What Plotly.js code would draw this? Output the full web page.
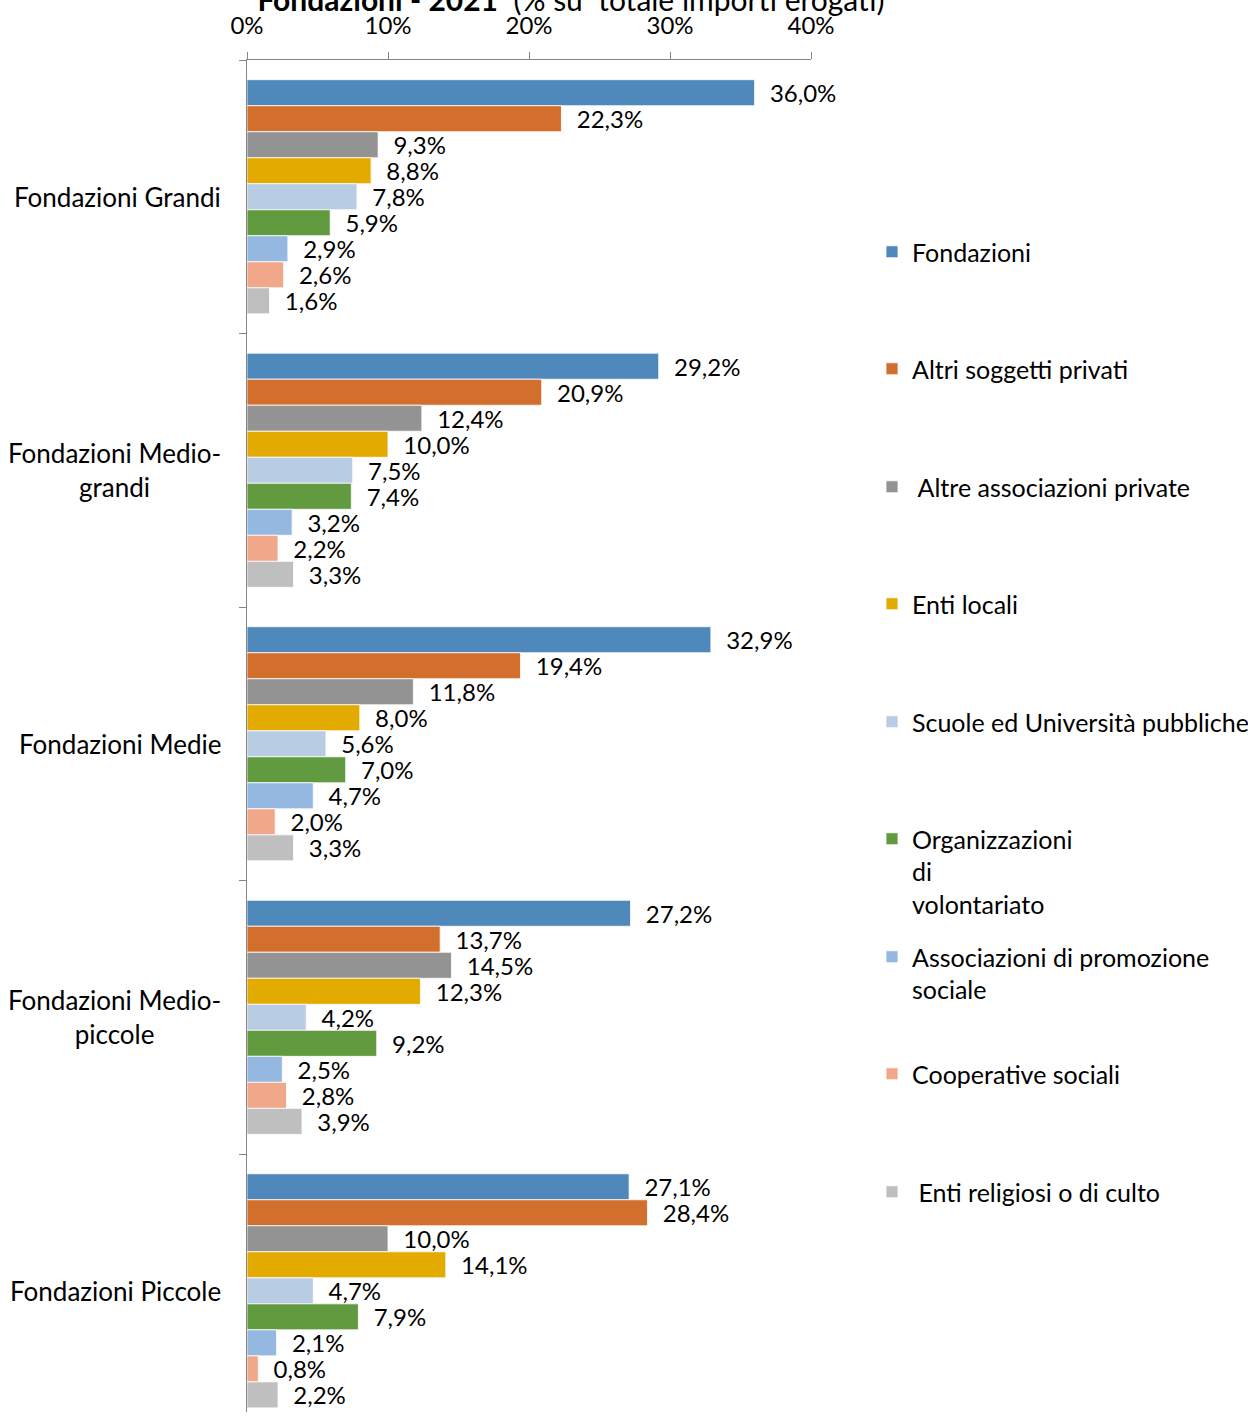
<!DOCTYPE html>
<html>
<head>
<meta charset="utf-8">
<script src="https://cdn.plot.ly/plotly-3.0.1.min.js"></script>
<style>html,body{margin:0;padding:0;background:#fff;}#chart{width:1248px;height:1421px;}</style>
</head>
<body>
<div id="chart"></div>
<script>
var categories = ["Fondazioni Grandi", "Fondazioni Medio-grandi", "Fondazioni Medie", "Fondazioni Medio-piccole", "Fondazioni Piccole"];
var categoryLabels = ["Fondazioni Grandi", "Fondazioni Medio-<br>grandi", "Fondazioni Medie", "Fondazioni Medio-<br>piccole", "Fondazioni Piccole"];
var seriesNames = ["Fondazioni", "Altri soggetti privati", "\u00A0Altre associazioni private", "Enti locali", "Scuole ed Università pubbliche", "Organizzazioni<br>di<br>volontariato", "Associazioni di promozione<br>sociale", "Cooperative sociali", "\u00A0Enti religiosi o di culto"];
var fondazioni = [36.0, 29.2, 32.9, 27.2, 27.1];
var altriSoggettiPrivati = [22.3, 20.9, 19.4, 13.7, 28.4];
var altreAssociazioniPrivate = [9.3, 12.4, 11.8, 14.5, 10.0];
var entiLocali = [8.8, 10.0, 8.0, 12.3, 14.1];
var scuoleUniversita = [7.8, 7.5, 5.6, 4.2, 4.7];
var organizzazioniVolontariato = [5.9, 7.4, 7.0, 9.2, 7.9];
var associazioniPromozione = [2.9, 3.2, 4.7, 2.5, 2.1];
var cooperativeSociali = [2.6, 2.2, 2.0, 2.8, 0.8];
var entiReligiosi = [1.6, 3.3, 3.3, 3.9, 2.2];
var tickValues = [0, 10, 20, 30, 40];
var tickLabels = ["0%", "10%", "20%", "30%", "40%"];

var seriesValues = [fondazioni, altriSoggettiPrivati, altreAssociazioniPrivate, entiLocali, scuoleUniversita, organizzazioniVolontariato, associazioniPromozione, cooperativeSociali, entiReligiosi];
var colors = ["#4F88BB", "#D36F2C", "#939393", "#E3AA00", "#B8CCE4", "#629A40", "#95B8E0", "#F1A78A", "#BFBFBF"];
var legendCenters = [252, 369, 487, 604, 722, 839, 957, 1074, 1192];

var FONT = "Lato, 'Open Sans', sans-serif";
var W = 1248, H = 1421;

var data = seriesValues.map(function (vals, i) {
  return {
    type: "bar",
    orientation: "h",
    name: seriesNames[i],
    y: categories,
    x: vals,
    text: vals.map(function (v) { return "\u00A0\u00A0" + v.toFixed(1).replace(".", ",") + "%"; }),
    texttemplate: "%{text}",
    textposition: "outside",
    constraintext: "none",
    cliponaxis: false,
    textfont: { family: FONT, size: 24, color: "#000" },
    marker: { color: colors[i], line: { color: "rgba(255,255,255,0.8)", width: 1 } },
    legend: i === 0 ? "legend" : "legend" + (i + 1),
    hoverinfo: "x+name"
  };
});

var layout = {
  width: W,
  height: H,
  paper_bgcolor: "#fff",
  plot_bgcolor: "#fff",
  font: { family: FONT, size: 24, color: "#000" },
  margin: { l: 247, r: 437, t: 60, b: 9 },
  barmode: "group",
  bargap: 0.144,
  bargroupgap: 0,
  title: {
    text: "<b>Fondazioni - 2021</b>  (% su  totale importi erogati)",
    font: { family: FONT, size: 30, color: "#000" },
    xref: "container", yref: "container",
    x: 571 / W, xanchor: "center",
    y: 1, yanchor: "middle"
  },
  xaxis: {
    side: "top",
    range: [0, 40],
    tickvals: tickValues,
    ticktext: tickLabels,
    ticks: "outside",
    ticklen: 7,
    tickcolor: "#868686",
    showline: true,
    linecolor: "#868686",
    linewidth: 1,
    showgrid: false,
    zeroline: false,
    ticklabelstandoff: 8,
    tickfont: { family: FONT, size: 24, color: "#000" },
    fixedrange: true
  },
  yaxis: {
    type: "category",
    autorange: false,
    range: [4.443, -0.5],
    showticklabels: false,
    ticks: "outside",
    tickson: "boundaries",
    ticklen: 7,
    tickcolor: "#868686",
    showline: true,
    linecolor: "#868686",
    linewidth: 1,
    showgrid: false,
    zeroline: false,
    fixedrange: true
  },
  annotations: categories.map(function (c, i) {
    return {
      xref: "paper", yref: "y",
      x: 0, y: c,
      xanchor: "right", yanchor: "middle",
      xshift: -24,
      align: "center",
      showarrow: false,
      text: categoryLabels[i],
      font: { family: FONT, size: 26, color: "#000" }
    };
  })
};

legendCenters.forEach(function (yc, i) {
  var key = i === 0 ? "legend" : "legend" + (i + 1);
  layout[key] = {
    xref: "container", yref: "container",
    x: 872 / W, xanchor: "left",
    y: 1 - (yc - 23) / H, yanchor: "top",
    bgcolor: "rgba(0,0,0,0)",
    borderwidth: 0,
    valign: "top",
    font: { family: FONT, size: 25, color: "#000" },
    orientation: "v"
  };
});
layout.showlegend = true;

Plotly.newPlot("chart", data, layout, { displayModeBar: false, staticPlot: true });
</script>
</body>
</html>
